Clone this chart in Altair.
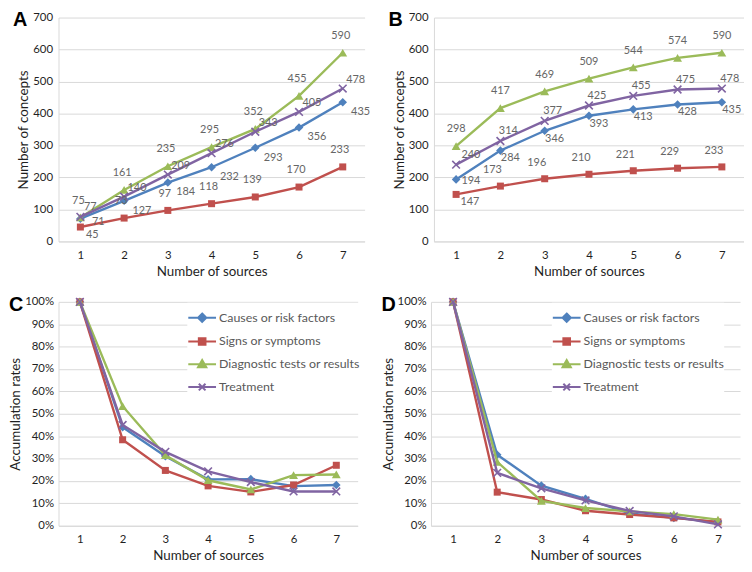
import altair as alt
import pandas as pd

sources = [1, 2, 3, 4, 5, 6, 7]
series_names = ["Causes or risk factors", "Signs or symptoms",
                "Diagnostic tests or results", "Treatment"]
series_colors = ["#4F81BD", "#C0504D", "#9BBB59", "#8064A2"]

# Panel A: cumulative concepts, sources added in one order
a_causes = [71, 127, 184, 232, 293, 356, 435]
a_signs = [45, 73, 97, 118, 139, 170, 233]
a_diag = [75, 161, 235, 295, 352, 455, 590]
a_treat = [77, 140, 209, 276, 343, 405, 478]

# Panel B: cumulative concepts, other order
b_causes = [194, 284, 346, 393, 413, 428, 435]
b_signs = [147, 173, 196, 210, 221, 229, 233]
b_diag = [298, 417, 469, 509, 544, 574, 590]
b_treat = [240, 314, 377, 425, 455, 475, 478]

# Panel C: accumulation rates (fractions)
c_causes = [1.00, 0.44, 0.31, 0.207, 0.208, 0.177, 0.182]
c_signs = [1.00, 0.384, 0.247, 0.178, 0.151, 0.182, 0.270]
c_diag = [1.00, 0.534, 0.315, 0.203, 0.162, 0.226, 0.229]
c_treat = [1.00, 0.45, 0.33, 0.243, 0.195, 0.153, 0.153]

# Panel D: accumulation rates (fractions)
d_causes = [1.00, 0.317, 0.179, 0.120, 0.055, 0.035, 0.016]
d_signs = [1.00, 0.150, 0.117, 0.067, 0.050, 0.035, 0.017]
d_diag = [1.00, 0.285, 0.111, 0.079, 0.064, 0.052, 0.027]
d_treat = [1.00, 0.236, 0.167, 0.113, 0.066, 0.042, 0.006]

count_ticks = [0, 100, 200, 300, 400, 500, 600, 700]
rate_ticks = [0, 0.1, 0.2, 0.3, 0.4, 0.5, 0.6, 0.7, 0.8, 0.9, 1.0]

FONT = "Lato"
GRID = "#D9D9D9"
TEXT = "#1f1f1f"
LABEL_GRAY = "#666666"

marker_shapes = ["diamond", "square", "triangle-up", "M-1,-1L1,1M-1,1L1,-1"]
marker_sizes = [75, 50, 80, 60]
marker_filled = [True, True, True, False]

legend_paths = [
    "M-1,0L1,0M0,-0.3L0.3,0L0,0.3L-0.3,0Z",
    "M-1,0L1,0M-0.24,-0.24L0.24,-0.24L0.24,0.24L-0.24,0.24Z",
    "M-1,0L1,0M0,-0.3L0.3,0.22L-0.3,0.22Z",
    "M-1,0L1,0M-0.24,-0.24L0.24,0.24M-0.24,0.24L0.24,-0.24",
]
LEGEND_W = 172


def long_df(lists):
    rows = []
    for name, vals in zip(series_names, lists):
        for s, v in zip(sources, vals):
            rows.append({"source": s, "series": name, "value": v})
    return pd.DataFrame(rows)


def panel(df, letter, ytitle, yvalues, yformat, width, height,
          label_offsets=None, first_offsets=None, legend_xy=None, letter_x=-46,
          label_pad=6):
    x = alt.X("source:O", scale=alt.Scale(type="point", padding=0.5),
              axis=alt.Axis(title="Number of sources", labelAngle=0, ticks=False,
                            grid=False, domain=True, labelPadding=8, titlePadding=4))
    y = alt.Y("value:Q",
              scale=alt.Scale(domain=[yvalues[0], yvalues[-1]], nice=False),
              axis=alt.Axis(title=ytitle, values=yvalues, format=yformat,
                            ticks=False, grid=True, domain=True,
                            labelPadding=label_pad, titlePadding=2))
    base = alt.Chart(df)
    layers = []
    for i, name in enumerate(series_names):
        sub = base.transform_filter(alt.datum.series == name)
        layers.append(sub.mark_line(color=series_colors[i], strokeWidth=2.4)
                      .encode(x=x, y=y))
        layers.append(sub.mark_point(shape=marker_shapes[i], size=marker_sizes[i],
                                     filled=marker_filled[i], color=series_colors[i],
                                     strokeWidth=1.6, opacity=1)
                      .encode(x=x, y=y))
    if label_offsets:
        for i, name in enumerate(series_names):
            dx, dy = label_offsets[i]
            fdx, fdy = first_offsets[i]
            rest = base.transform_filter(
                (alt.datum.series == name) & (alt.datum.source != 1))
            first = base.transform_filter(
                (alt.datum.series == name) & (alt.datum.source == 1))
            layers.append(rest.mark_text(dx=dx, dy=dy, font=FONT, fontSize=11,
                                         color=LABEL_GRAY)
                          .encode(x=x, y=y, text="value:Q"))
            layers.append(first.mark_text(dx=fdx, dy=fdy, font=FONT, fontSize=11,
                                          color=LABEL_GRAY)
                          .encode(x=x, y=y, text="value:Q"))
    if legend_xy:
        lg = alt.Legend(title=None, orient="none", legendX=legend_xy[0],
                        legendY=legend_xy[1], fillColor="white", padding=0,
                        labelFont=FONT, labelFontSize=12.5, labelColor="#595959",
                        symbolSize=784, symbolStrokeWidth=2, symbolOpacity=1,
                        labelOffset=2, rowPadding=-10)
        layers.append(base.mark_point(opacity=0, filled=True).encode(
            x=x, y=y,
            fill=alt.Fill("series:N", scale=alt.Scale(domain=series_names,
                                                      range=series_colors),
                          legend=lg),
            stroke=alt.Stroke("series:N", scale=alt.Scale(domain=series_names,
                                                          range=series_colors),
                              legend=lg),
            shape=alt.Shape("series:N", scale=alt.Scale(domain=series_names,
                                                        range=legend_paths),
                            legend=lg),
        ))
    letter_layer = alt.Chart(pd.DataFrame({"t": [letter]})).mark_text(
        font="Liberation Sans", fontWeight="bold", fontSize=20, align="left",
        baseline="middle", color="black"
    ).encode(x=alt.value(letter_x), y=alt.value(3), text="t:N")
    layers.append(letter_layer)
    return alt.layer(*layers).properties(width=width, height=height)


label_a = [(18, 10), (-3, -17), (-2, -17), (13, -9)]
first_a = [(18, 3), (12, 8), (-2, -17), (10, -10)]
label_b = [(10, 8), (-8, -16), (0, -17), (8, -10)]
first_b = [(15, 2), (14, 8), (0, -17), (15, -10)]

W_A, W_B, W_C, W_D = 309, 313, 302, 312
H = 226

chart_a = panel(long_df([a_causes, a_signs, a_diag, a_treat]), "A",
                "Number of concepts", count_ticks, "d", W_A, H,
                label_a, first_a, letter_x=-46)
chart_b = panel(long_df([b_causes, b_signs, b_diag, b_treat]), "B",
                "Number of concepts", count_ticks, "d", W_B, H,
                label_b, first_b, letter_x=-46)
chart_c = panel(long_df([c_causes, c_signs, c_diag, c_treat]), "C",
                "Accumulation rates", rate_ticks, ".0%", W_C, H,
                legend_xy=[W_C - LEGEND_W, 1], letter_x=-50, label_pad=5)
chart_d = panel(long_df([d_causes, d_signs, d_diag, d_treat]), "D",
                "Accumulation rates", rate_ticks, ".0%", W_D, H,
                legend_xy=[W_D - LEGEND_W - 18, 1], letter_x=-50, label_pad=5)

row1 = alt.hconcat(chart_a, chart_b, spacing=18)
row2 = alt.hconcat(chart_c, chart_d, spacing=21).resolve_scale(
    fill="independent", stroke="independent", shape="independent").resolve_legend(
    fill="independent", stroke="independent", shape="independent")

chart = alt.vconcat(row1, row2, spacing=16).resolve_scale(
    fill="independent", stroke="independent", shape="independent").resolve_legend(
    fill="independent", stroke="independent", shape="independent").properties(
    padding=0
).configure_axis(
    labelFont=FONT, labelFontSize=11.5, labelColor=TEXT,
    titleFont=FONT, titleFontSize=13.5, titleFontWeight="normal", titleColor=TEXT,
    gridColor=GRID, domainColor=GRID, domainWidth=1, gridWidth=1
).configure_view(stroke=None)

chart.save("out.html", embed_options={"renderer": "svg", "actions": False})
